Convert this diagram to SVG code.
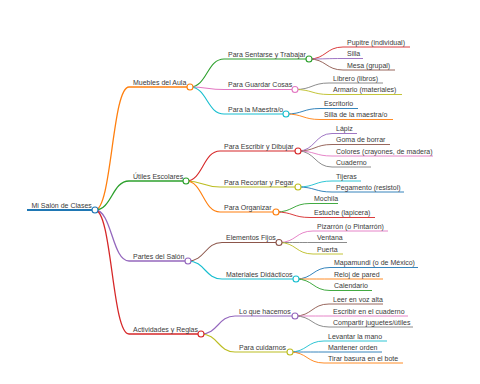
<svg xmlns="http://www.w3.org/2000/svg" width="480" height="384" viewBox="0 0 480 384">
<style>
text{font-family:"Liberation Sans",Arial,sans-serif;font-size:7px;fill:#3a3a3a}
path,line{fill:none}
circle{fill:#fff;stroke-width:1.1}
.c0{stroke:#1f77b4}.c1{stroke:#ff7f0e}.c2{stroke:#2ca02c}.c3{stroke:#d62728}.c4{stroke:#9467bd}
.c5{stroke:#8c564b}.c6{stroke:#e377c2}.c7{stroke:#7f7f7f}.c8{stroke:#bcbd22}.c9{stroke:#17becf}
.d0{stroke-width:1.8}.d1{stroke-width:1.3}.d2{stroke-width:1.1}.d3{stroke-width:0.9}
</style>
<rect width="480" height="384" fill="#fff"/>
<g id="connectors">
<path class="c1 d1" d="M95,210C112,210 112,87 129,87"/>
<path class="c2 d1" d="M95,210C112,210 112,181 129,181"/>
<path class="c4 d1" d="M95,210C112,210 112,261 129,261"/>
<path class="c3 d1" d="M95,210C112,210 112,334 129,334"/>
<path class="c2 d2" d="M190,87C207,87 207,59 224,59"/>
<path class="c6 d2" d="M190,87C207,87 207,89.5 224,89.5"/>
<path class="c9 d2" d="M190,87C207,87 207,114 224,114"/>
<path class="c3 d2" d="M186,181C203,181 203,151 220,151"/>
<path class="c8 d2" d="M186,181C203,181 203,187 220,187"/>
<path class="c1 d2" d="M186,181C203,181 203,212 220,212"/>
<path class="c5 d2" d="M188,261C205,261 205,242.5 222,242.5"/>
<path class="c9 d2" d="M188,261C205,261 205,279 222,279"/>
<path class="c4 d2" d="M201,334C218,334 218,316 235,316"/>
<path class="c8 d2" d="M201,334C218,334 218,352 235,352"/>
<path class="c3 d3" d="M309,59C326,59 326,47 343,47"/>
<path class="c4 d3" d="M309,59C326,59 326,58.5 343,58.5"/>
<path class="c5 d3" d="M309,59C326,59 326,70 343,70"/>
<path class="c7 d3" d="M295,89.5C312,89.5 312,83 329,83"/>
<path class="c8 d3" d="M295,89.5C312,89.5 312,94.5 329,94.5"/>
<path class="c0 d3" d="M286,114C303,114 303,108.5 320,108.5"/>
<path class="c1 d3" d="M286,114C303,114 303,119.5 320,119.5"/>
<path class="c4 d3" d="M298,151C315,151 315,133.5 332,133.5"/>
<path class="c5 d3" d="M298,151C315,151 315,144.5 332,144.5"/>
<path class="c6 d3" d="M298,151C315,151 315,156 332,156"/>
<path class="c7 d3" d="M298,151C315,151 315,167 332,167"/>
<path class="c9 d3" d="M298,187C315,187 315,181 332,181"/>
<path class="c0 d3" d="M298,187C315,187 315,192 332,192"/>
<path class="c2 d3" d="M276,212C293,212 293,203.5 310,203.5"/>
<path class="c3 d3" d="M276,212C293,212 293,217.5 310,217.5"/>
<path class="c6 d3" d="M279,242.5C296,242.5 296,231 313,231"/>
<path class="c7 d3" d="M279,242.5C296,242.5 296,242.5 313,242.5"/>
<path class="c8 d3" d="M279,242.5C296,242.5 296,254 313,254"/>
<path class="c0 d3" d="M296,279C313,279 313,267.5 330,267.5"/>
<path class="c1 d3" d="M296,279C313,279 313,279 330,279"/>
<path class="c2 d3" d="M296,279C313,279 313,290.5 330,290.5"/>
<path class="c5 d3" d="M295,316C312,316 312,304 329,304"/>
<path class="c6 d3" d="M295,316C312,316 312,316 329,316"/>
<path class="c7 d3" d="M295,316C312,316 312,327 329,327"/>
<path class="c9 d3" d="M290,352C307,352 307,341 324,341"/>
<path class="c0 d3" d="M290,352C307,352 307,352 324,352"/>
<path class="c1 d3" d="M290,352C307,352 307,363 324,363"/>
</g>
<g id="root"><path class="c0 d0" d="M27,210H95"/><circle class="c0" cx="95" cy="210" r="3"/><text x="31.5" y="207.5">Mi Salón de Clases</text></g>
<g id="muebles"><path class="c1 d1" d="M129,87H190"/><circle class="c1" cx="190" cy="87" r="3"/><text x="133" y="84.5">Muebles del Aula</text></g>
<g id="utiles"><path class="c2 d1" d="M129,181H186"/><circle class="c2" cx="186" cy="181" r="3"/><text x="133" y="178.5">Útiles Escolares</text></g>
<g id="partes"><path class="c4 d1" d="M129,261H188"/><circle class="c4" cx="188" cy="261" r="3"/><text x="133" y="258.5">Partes del Salón</text></g>
<g id="actividades"><path class="c3 d1" d="M129,334H201"/><circle class="c3" cx="201" cy="334" r="3"/><text x="133" y="331.5">Actividades y Reglas</text></g>
<g id="sentarse"><path class="c2 d2" d="M224,59H309"/><circle class="c2" cx="309" cy="59" r="3"/><text x="228" y="56.5">Para Sentarse y Trabajar</text></g>
<g id="guardar"><path class="c6 d2" d="M224,89.5H295"/><circle class="c6" cx="295" cy="89.5" r="3"/><text x="228" y="87">Para Guardar Cosas</text></g>
<g id="maestra"><path class="c9 d2" d="M224,114H286"/><circle class="c9" cx="286" cy="114" r="3"/><text x="228" y="111.5">Para la Maestra/o</text></g>
<g id="escribir"><path class="c3 d2" d="M220,151H298"/><circle class="c3" cx="298" cy="151" r="3"/><text x="224" y="148.5">Para Escribir y Dibujar</text></g>
<g id="recortar"><path class="c8 d2" d="M220,187H298"/><circle class="c8" cx="298" cy="187" r="3"/><text x="224" y="184.5">Para Recortar y Pegar</text></g>
<g id="organizar"><path class="c1 d2" d="M220,212H276"/><circle class="c1" cx="276" cy="212" r="3"/><text x="224" y="209.5">Para Organizar</text></g>
<g id="fijos"><path class="c5 d2" d="M222,242.5H279"/><circle class="c5" cx="279" cy="242.5" r="3"/><text x="226" y="240">Elementos Fijos</text></g>
<g id="didacticos"><path class="c9 d2" d="M222,279H296"/><circle class="c9" cx="296" cy="279" r="3"/><text x="226" y="276.5">Materiales Didácticos</text></g>
<g id="hacemos"><path class="c4 d2" d="M235,316H295"/><circle class="c4" cx="295" cy="316" r="3"/><text x="239" y="313.5">Lo que hacemos</text></g>
<g id="cuidarnos"><path class="c8 d2" d="M235,352H290"/><circle class="c8" cx="290" cy="352" r="3"/><text x="239" y="349.5">Para cuidarnos</text></g>
<g id="pupitre"><path class="c3 d3" d="M343,47H410"/><text x="347" y="44.5">Pupitre (individual)</text></g>
<g id="silla"><path class="c4 d3" d="M343,58.5H363"/><text x="347" y="56">Silla</text></g>
<g id="mesa"><path class="c5 d3" d="M343,70H395"/><text x="347" y="67.5">Mesa (grupal)</text></g>
<g id="librero"><path class="c7 d3" d="M329,83H383"/><text x="333" y="80.5">Librero (libros)</text></g>
<g id="armario"><path class="c8 d3" d="M329,94.5H402"/><text x="333" y="92">Armario (materiales)</text></g>
<g id="escritorio"><path class="c0 d3" d="M320,108.5H358"/><text x="324" y="106">Escritorio</text></g>
<g id="sillamaestra"><path class="c1 d3" d="M320,119.5H393"/><text x="324" y="117">Silla de la maestra/o</text></g>
<g id="lapiz"><path class="c4 d3" d="M332,133.5H357"/><text x="336" y="131">Lápiz</text></g>
<g id="goma"><path class="c5 d3" d="M332,144.5H390"/><text x="336" y="142">Goma de borrar</text></g>
<g id="colores"><path class="c6 d3" d="M332,156H433"/><text x="336" y="153.5">Colores (crayones, de madera)</text></g>
<g id="cuaderno"><path class="c7 d3" d="M332,167H371"/><text x="336" y="164.5">Cuaderno</text></g>
<g id="tijeras"><path class="c9 d3" d="M332,181H361"/><text x="336" y="178.5">Tijeras</text></g>
<g id="pegamento"><path class="c0 d3" d="M332,192H404"/><text x="336" y="189.5">Pegamento (resistol)</text></g>
<g id="mochila"><path class="c2 d3" d="M310,203.5H338"/><text x="314" y="201">Mochila</text></g>
<g id="estuche"><path class="c3 d3" d="M310,217.5H375"/><text x="314" y="215">Estuche (lapicera)</text></g>
<g id="pizarron"><path class="c6 d3" d="M313,231H388"/><text x="317" y="228.5">Pizarrón (o Pintarrón)</text></g>
<g id="ventana"><path class="c7 d3" d="M313,242.5H347"/><text x="317" y="240">Ventana</text></g>
<g id="puerta"><path class="c8 d3" d="M313,254H343"/><text x="317" y="251.5">Puerta</text></g>
<g id="mapamundi"><path class="c0 d3" d="M330,267.5H418"/><text x="334" y="265">Mapamundi (o de México)</text></g>
<g id="reloj"><path class="c1 d3" d="M330,279H383"/><text x="334" y="276.5">Reloj de pared</text></g>
<g id="calendario"><path class="c2 d3" d="M330,290.5H372"/><text x="334" y="288">Calendario</text></g>
<g id="leer"><path class="c5 d3" d="M329,304H383"/><text x="333" y="301.5">Leer en voz alta</text></g>
<g id="escribircuaderno"><path class="c6 d3" d="M329,316H408"/><text x="333" y="313.5">Escribir en el cuaderno</text></g>
<g id="compartir"><path class="c7 d3" d="M329,327H413"/><text x="333" y="324.5">Compartir juguetes/útiles</text></g>
<g id="levantar"><path class="c9 d3" d="M324,341H387"/><text x="328" y="338.5">Levantar la mano</text></g>
<g id="mantener"><path class="c0 d3" d="M324,352H382"/><text x="328" y="349.5">Mantener orden</text></g>
<g id="tirar"><path class="c1 d3" d="M324,363H403"/><text x="328" y="360.5">Tirar basura en el bote</text></g>
</svg>
